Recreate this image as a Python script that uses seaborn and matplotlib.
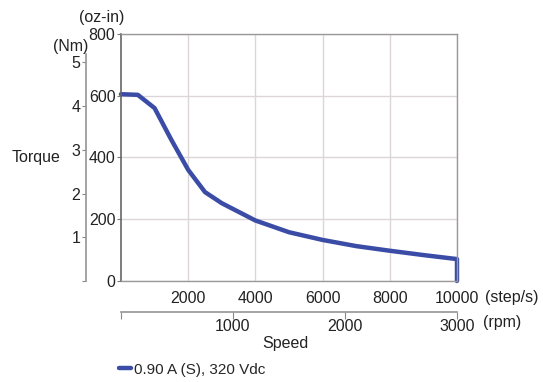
import matplotlib
matplotlib.use("Agg")
import matplotlib.pyplot as plt
import seaborn as sns
import pandas as pd

# data
speed = [0, 500, 1000, 1500, 2000, 2500, 3000, 3500, 4000, 5000, 6000, 7000, 8000, 9000, 10000, 10000]
torque = [605, 603, 560, 457, 360, 288, 252, 224, 196, 158, 133, 113, 98, 84, 71, 0]
series = "0.90 A (S), 320 Vdc"

step_ticks = [2000, 4000, 6000, 8000, 10000]
oz_ticks = [0, 200, 400, 600, 800]
nm_ticks = [0, 1, 2, 3, 4, 5]
rpm_ticks = [0, 1000, 2000, 3000]

df = pd.DataFrame({"speed": speed, "torque": torque, "curve": series})

sns.set_theme(style="white")
plt.rcParams["font.family"] = ["Liberation Sans", "DejaVu Sans"]
fs = 11.5
txt = "#222222"

fig = plt.figure(figsize=(5.43, 3.82), dpi=100)
ax = fig.add_axes([0.2228, 0.2644, 0.6188, 0.6466])

line_col = "#3b4ca6"
sns.lineplot(data=df, x="speed", y="torque", estimator=None, sort=False,
             color=line_col, linewidth=3.2, ax=ax, legend=False)
ax.lines[0].set_clip_on(False)

ax.set_xlim(0, 10000)
ax.set_ylim(0, 800)
ax.set_xticks(step_ticks)
ax.set_xticklabels([str(t) for t in step_ticks], fontsize=fs, color=txt)
ax.set_yticks(oz_ticks)
ax.set_yticklabels([str(t) for t in oz_ticks], fontsize=fs, color=txt)
ax.tick_params(axis="x", length=0, pad=7)
ax.tick_params(axis="y", length=3, width=0.8, color="#777777", pad=1, direction="out", left=True)
ax.grid(True, color="#dcd6d6", linewidth=1)
for side in ["top", "right", "bottom"]:
    ax.spines[side].set_color("#9a9a9a")
    ax.spines[side].set_linewidth(1)
ax.spines["left"].set_color("#666666")
ax.spines["left"].set_linewidth(1.2)
ax.set_xlabel("")
ax.set_ylabel("")

# Nm scale
nm = ax.secondary_yaxis(-0.104, functions=(lambda v: v / 141.6, lambda v: v * 141.6))
nm.set_yticks(nm_ticks)
nm.set_yticklabels([""] + [str(t) for t in nm_ticks[1:]], fontsize=fs, color=txt)
nm.tick_params(length=3, width=0.8, color="#888888", pad=1)
nm.spines["left"].set_color("#999999")
nm.spines["left"].set_bounds(0, 5.2)

# rpm scale
rpm = ax.secondary_xaxis(-0.127, functions=(lambda v: v * 0.3, lambda v: v / 0.3))
rpm.set_xticks(rpm_ticks)
rpm.set_xticklabels([""] + [str(t) for t in rpm_ticks[1:]], fontsize=fs, color=txt)
rpm.tick_params(length=5, width=0.8, color="#888888", pad=0, direction="out")
rpm.spines["bottom"].set_color("#999999")

fig.text(0.893, 0.222, "(step/s)", fontsize=fs, color=txt, va="center")
fig.text(0.889, 0.155, "(rpm)", fontsize=fs, color=txt, va="center")
fig.text(0.525, 0.1, "Speed", fontsize=fs, color=txt, ha="center", va="center")
fig.text(0.022, 0.589, "Torque", fontsize=fs, color=txt, va="center")
fig.text(0.097, 0.877, "(Nm)", fontsize=fs, color=txt, va="center")
fig.text(0.146, 0.955, "(oz-in)", fontsize=fs, color=txt, va="center")

handle = plt.Line2D([], [], color=line_col, linewidth=3.2)
fig.legend([handle], [series], loc="center left", bbox_to_anchor=(0.22, 0.032),
           frameon=False, fontsize=11, handlelength=0.75, handletextpad=0.2,
           borderaxespad=0, borderpad=0)

fig.savefig("out.png", dpi=100)
